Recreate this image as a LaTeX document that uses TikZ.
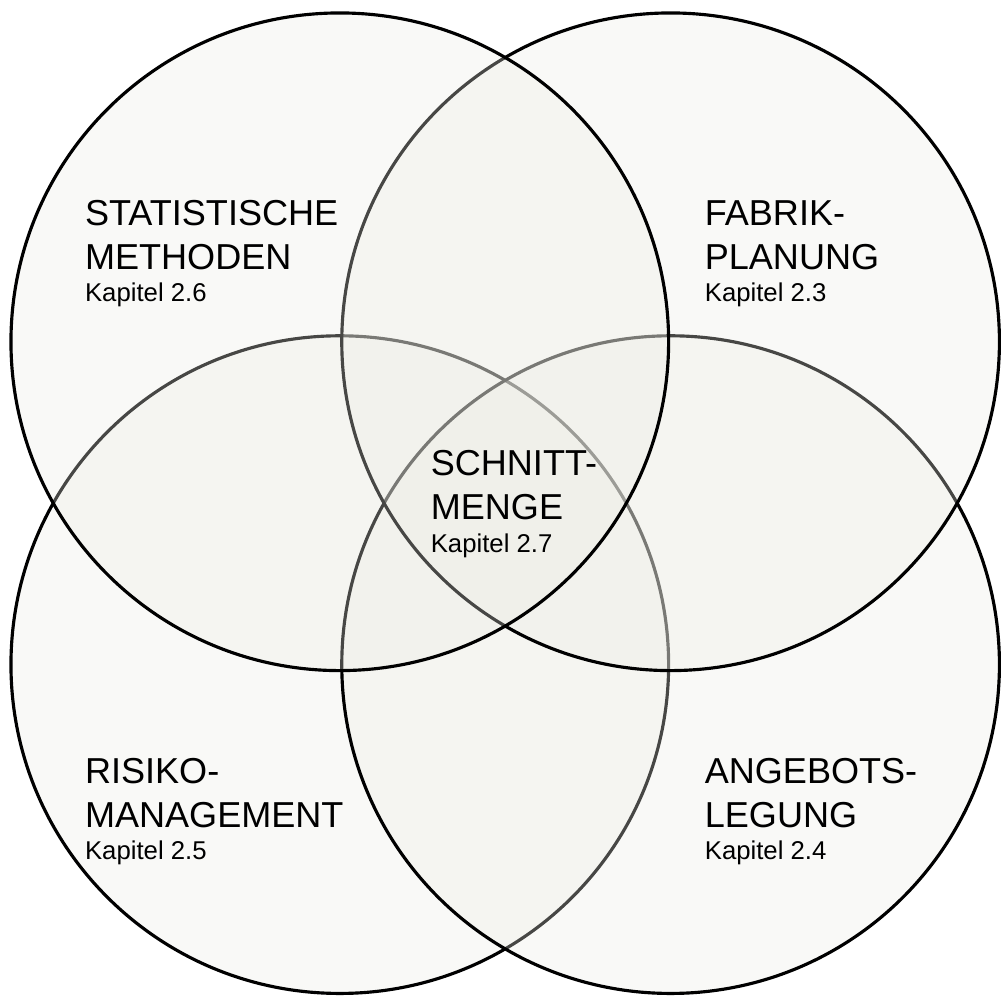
\documentclass[tikz,border=0pt]{standalone}
\usepackage{fontspec}
\setmainfont{Liberation Sans}
\usetikzlibrary{positioning,calc}
\definecolor{kreisgrau}{HTML}{EEEEE6}
\definecolor{rand}{HTML}{000000}

\begin{document}
\begin{tikzpicture}[x=0.02cm,y=-0.02cm,
      kreis/.style={draw=rand,line width=1.8pt,fill=kreisgrau,fill opacity=0.3},
      titel/.style={anchor=base west,inner sep=0pt,font=\fontsize{20.6}{24}\selectfont},
      kapitel/.style={anchor=base west,inner sep=0pt,font=\fontsize{14.7}{18}\selectfont}]
    \fill[white] (0,0) rectangle (1001,999);
    % vier Kreise, Reihenfolge wie im Original
    \foreach \n/\x/\y in {rm/341/667,al/673/667,fp/673/343,sm/341/343}
      \draw[kreis] (\x,\y) coordinate (\n) circle[radius=330];
    % Beschriftungen
    \foreach \n/\x/\y/\eins/\zwei/\kap in {
        stat/85/226/STATISTISCHE/METHODEN/2.6,
        fab/707/226/FABRIK-/PLANUNG/2.3,
        schn/432/477/SCHNITT-/MENGE/2.7,
        risk/85/786/RISIKO-/MANAGEMENT/2.5,
        ang/707/786/ANGEBOTS-/LEGUNG/2.4} {
      \node[titel] (\n1) at (\x,\y) {\eins};
      \node[titel] (\n2) at ($(\n1.base west)+(0,44)$) {\zwei};
      \node[kapitel] (\n3) at ($(\n2.base west)+(0,33)$) {Kapitel \kap};
    }
  \end{tikzpicture}
\end{document}
